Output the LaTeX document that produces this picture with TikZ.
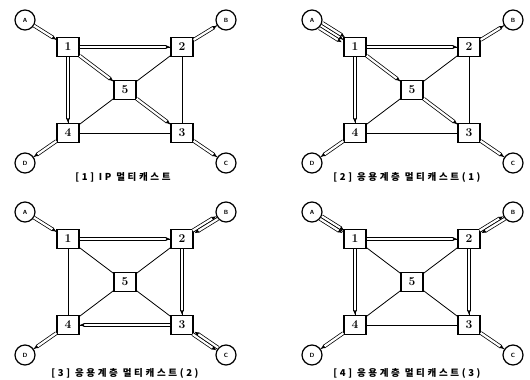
\documentclass[tikz,border=0pt]{standalone}
\usepackage{fontspec}
\newfontfamily\cjk[LetterSpace=28]{Noto Sans CJK KR}
\usetikzlibrary{positioning, arrows.meta}

\tikzset{
  router/.style={draw, rectangle, line width=1.2pt, minimum width=22pt,
    minimum height=19pt, inner sep=0pt, font=\bfseries\large},
  host/.style={draw, circle, line width=1.2pt, minimum size=20pt,
    inner sep=0pt, font=\sffamily\bfseries\fontsize{6}{7}\selectfont},
  link/.style={line width=0.8pt},
  flow/.style={double, line width=0.75pt, double distance=2.2pt,
    -{Latex[length=4.5pt,width=4pt]}},
  lane/.style={transform canvas={shift={#1}}},
  caption/.style={font=\cjk\bfseries\fontsize{9.5}{11}\selectfont},
}

% base network of one panel: routers 1-5, hosts A-D, all links
\newcommand\network{%
  \node[router] (r1) at (68,47) {1};
  \node[router] (r2) [right=114pt of r1] {2};
  \node[router] (r4) [below=86pt of r1] {4};
  \node[router] (r3) [right=114pt of r4] {3};
  \node[router] (r5) [below right=43pt and 57pt of r1] {5};
  \node[host] (A) [above left=27pt and 43pt of r1] {A};
  \node[host] (B) [above right=27pt and 44pt of r2] {B};
  \node[host] (D) [below left=30pt and 43pt of r4] {D};
  \node[host] (C) [below right=30pt and 44pt of r3] {C};
  \path[link]
  (A) edge (r1) (B) edge (r2) (C) edge (r3) (D) edge (r4)
  (r1) edge (r2) (r2) edge (r3) (r3) edge (r4) (r4) edge (r1)
  (r5) edge (r1) (r5) edge (r2) (r5) edge (r3) (r5) edge (r4);
}

\begin{document}
\begin{tikzpicture}[x=1pt, y=-1pt, on grid]
  \useasboundingbox (0,0) rectangle (530,380);

  % [1] IP multicast
  \begin{scope}
    \network
    \draw[flow] (A) -- (r1);
    \draw[flow] (r1) -- (r2);
    \draw[flow] (r2) -- (B);
    \draw[flow] (r1) -- (r5);
    \draw[flow] (r5) -- (r3);
    \draw[flow] (r3) -- (C);
    \draw[flow] (r1) -- (r4);
    \draw[flow] (r4) -- (D);
    \node[caption] (cap1) at (123,177) {[1] IP 멀티캐스트};
  \end{scope}

  % [2] application layer multicast (1)
  \begin{scope}[shift={(287,0)}]
    \network
    \draw[flow] (A) -- (r1);
    \draw[flow, lane={(1.6pt,2.6pt)}] (A) -- (r1);
    \draw[flow, lane={(-1.6pt,-2.6pt)}] (A) -- (r1);
    \draw[flow] (r1) -- (r2);
    \draw[flow] (r2) -- (B);
    \draw[flow] (r1) -- (r5);
    \draw[flow] (r5) -- (r3);
    \draw[flow] (r3) -- (C);
    \draw[flow] (r1) -- (r4);
    \draw[flow] (r4) -- (D);
    \node[caption] (cap2) at (120,177) {[2] 응용계층 멀티캐스트(1)};
  \end{scope}

  % [3] application layer multicast (2)
  \begin{scope}[shift={(0,192)}]
    \network
    \draw[flow] (A) -- (r1);
    \draw[flow] (r1) -- (r2);
    \draw[flow, lane={(-0.85pt,1.35pt)}] (r2) -- (B);
    \draw[flow, lane={(0.85pt,-1.35pt)}] (B) -- (r2);
    \draw[flow] (r2) -- (r3);
    \draw[flow, lane={(-0.9pt,-1.3pt)}] (r3) -- (C);
    \draw[flow, lane={(0.9pt,1.3pt)}] (C) -- (r3);
    \draw[flow] (r3) -- (r4);
    \draw[flow] (r4) -- (D);
    \node[caption] (cap3) at (125,181) {[3] 응용계층 멀티캐스트(2)};
  \end{scope}

  % [4] application layer multicast (3)
  \begin{scope}[shift={(287,192)}]
    \network
    \draw[flow, lane={(0.85pt,1.35pt)}] (A) -- (r1);
    \draw[flow, lane={(-0.85pt,-1.35pt)}] (A) -- (r1);
    \draw[flow] (r1) -- (r2);
    \draw[flow, lane={(-0.85pt,1.35pt)}] (r2) -- (B);
    \draw[flow, lane={(0.85pt,-1.35pt)}] (B) -- (r2);
    \draw[flow] (r2) -- (r3);
    \draw[flow] (r3) -- (C);
    \draw[flow] (r1) -- (r4);
    \draw[flow] (r4) -- (D);
    \node[caption] (cap4) at (120,181) {[4] 응용계층 멀티캐스트(3)};
  \end{scope}
\end{tikzpicture}
\end{document}
